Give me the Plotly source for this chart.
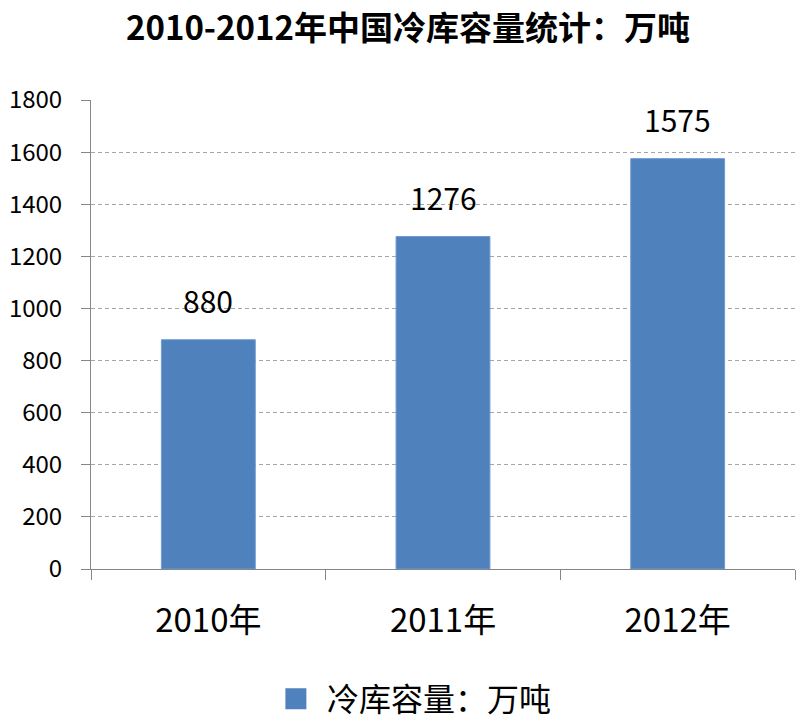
import plotly.graph_objects as go

categories = ["2010年", "2011年", "2012年"]
values = [880, 1276, 1575]
series_name = "冷库容量：万吨"
title_text = "2010-2012年中国冷库容量统计：万吨"
y_ticks = [0, 200, 400, 600, 800, 1000, 1200, 1400, 1600, 1800]

FONT = "Noto Sans CJK SC, Noto Sans, sans-serif"
BAR = "#4F81BD"

fig = go.Figure()
fig.add_trace(go.Bar(
    x=categories, y=values, name=series_name,
    marker=dict(color=BAR, line=dict(color="#6f9bd1", width=1)),
    width=0.4,
    showlegend=False,
))
# legend proxy with a larger square symbol
fig.add_trace(go.Scatter(
    x=[None], y=[None], mode="markers", name=series_name,
    marker=dict(symbol="square", size=16, color=BAR, line=dict(color=BAR, width=5)),
    showlegend=True,
))
for c, v in zip(categories, values):
    fig.add_annotation(x=c, y=v, text=str(v), showarrow=False,
                       yanchor="bottom", yshift=16,
                       font=dict(family=FONT, size=30, color="#000"))

# page body has an 8px margin, so the figure is sized to fit the window exactly
fig.update_layout(
    width=799, height=713,
    margin=dict(l=83, r=12, t=92, b=152, autoexpand=False),
    paper_bgcolor="white", plot_bgcolor="white",
    font=dict(family=FONT, color="#000"),
    title=dict(text="<b>" + title_text + "</b>", x=0.5006, xanchor="center",
               y=0.971, yanchor="middle",
               font=dict(family=FONT, size=33, color="#000")),
    legend=dict(orientation="h", x=0.247, xanchor="left", y=-0.277, yanchor="middle",
                font=dict(family=FONT, size=32, color="#000"),
                itemwidth=52),
    showlegend=True,
)
fig.update_xaxes(
    type="category", showline=True, linecolor="#868686", linewidth=1,
    ticks="outside", tickson="boundaries", ticklen=10, tickcolor="#868686",
    tickfont=dict(family=FONT, size=33, color="#000"),
    ticklabelstandoff=22, automargin=False,
    showgrid=False, zeroline=False,
)
fig.update_yaxes(
    range=[0, 1800], tickvals=y_ticks, showline=True, linecolor="#868686", linewidth=1,
    ticks="outside", ticklen=9, tickcolor="#868686",
    tickfont=dict(family=FONT, size=24, color="#000"),
    ticklabelstandoff=14, automargin=False,
    showgrid=True, gridcolor="#a6a6a6", griddash="4px,3px", gridwidth=1,
    zeroline=False,
)
fig.write_html("out.html")
